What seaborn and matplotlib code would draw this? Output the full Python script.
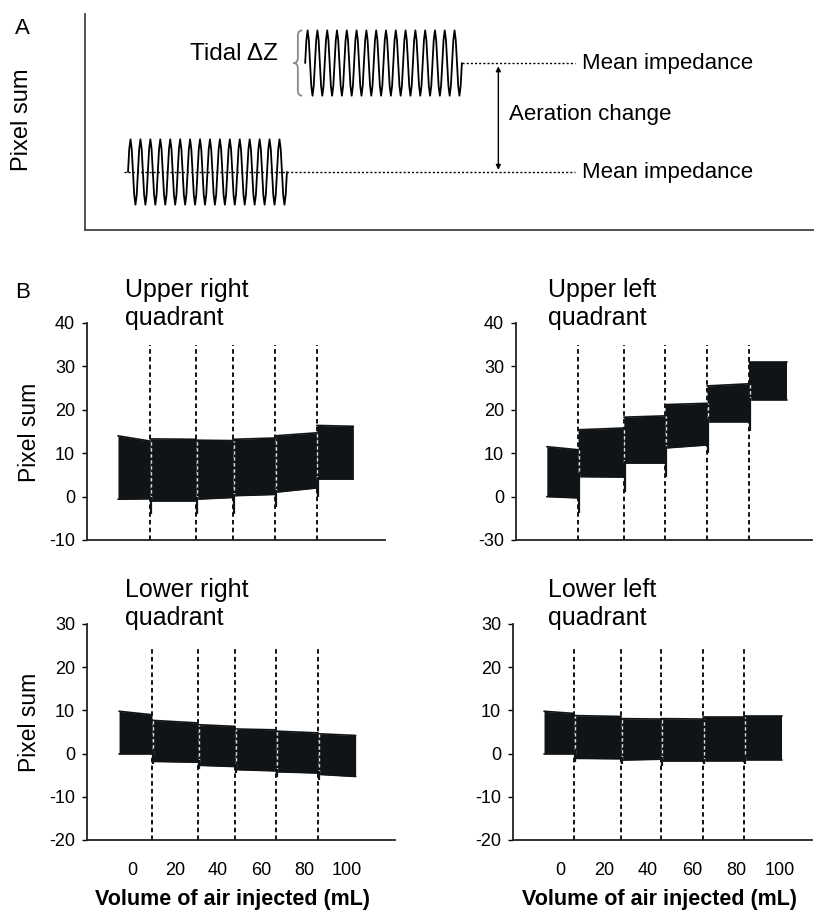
import numpy as np
import pandas as pd
import matplotlib
matplotlib.use("Agg")
import matplotlib.pyplot as plt
import seaborn as sns
from matplotlib.path import Path
from matplotlib.patches import PathPatch

# ---------------- data ----------------
# Panel A (schematic)
CYCLE_SHAPE = [0.0, 0.7, 1.0, 0.7, 0.0, -0.7, -1.0, -0.7]
N_CYCLES = 16
TIDAL_AMPLITUDE = 0.3
MEAN_LEVELS = [1.0, 2.0]          # before / after aeration change
WAVE_STARTS = [5.9, 30.2]
WAVE_ENDS = [27.7, 51.7]

# Panel B: segment boundaries (start, 5 injections, end) and envelopes
UR_EDGES = [-6.5, 8.4, 29.8, 47.0, 66.5, 86.0, 103.0]
UR_TOP_START = [14.0, 13.3, 13.0, 13.2, 14.0, 16.4]
UR_TOP_END = [12.8, 13.2, 12.9, 13.5, 14.7, 16.2]
UR_BOT_START = [-0.6, -1.0, -0.6, 0.2, 1.0, 4.0]
UR_BOT_END = [-0.5, -1.0, -0.2, 0.5, 2.0, 4.0]
UR_SPIKES = [-4.0, -4.0, -4.0, -2.5, 0.0]

UL_EDGES = [-6.0, 8.2, 29.0, 47.7, 66.8, 86.0, 103.0]
UL_TOP_START = [11.5, 15.4, 18.3, 21.2, 25.5, 30.9]
UL_TOP_END = [10.8, 15.8, 18.6, 21.5, 26.0, 30.9]
UL_BOT_START = [0.0, 4.6, 7.7, 11.2, 17.3, 22.3]
UL_BOT_END = [-0.3, 4.5, 7.7, 11.9, 17.3, 22.3]
UL_SPIKES = [-3.8, 1.0, 4.6, 10.0, 15.0]

LR_EDGES = [-6.0, 9.3, 30.7, 47.9, 67.0, 86.5, 104.0]
LR_TOP_START = [9.8, 7.7, 6.7, 5.7, 5.2, 4.6]
LR_TOP_END = [9.0, 7.1, 6.3, 5.5, 4.8, 4.2]
LR_BOT_START = [0.0, -1.8, -2.7, -3.7, -4.2, -4.8]
LR_BOT_END = [0.0, -2.0, -3.0, -4.0, -4.5, -5.3]
LR_SPIKES = [-2.5, -3.5, -4.5, -5.5, -6.0]

LL_EDGES = [-7.3, 6.4, 27.7, 45.9, 65.0, 83.6, 101.0]
LL_TOP_START = [9.8, 8.8, 8.1, 8.1, 8.4, 8.6]
LL_TOP_END = [9.3, 8.6, 8.0, 8.0, 8.4, 8.6]
LL_BOT_START = [0.0, -1.1, -1.5, -1.7, -1.7, -1.4]
LL_BOT_END = [0.0, -1.2, -1.3, -1.7, -1.7, -1.4]
LL_SPIKES = [-2.0, -2.5, -2.8, -2.5, -2.3]

UPPER_YTICKS = [-10, 0, 10, 20, 30, 40]
UR_YTICKLABELS = ["-10", "0", "10", "20", "30", "40"]
UL_YTICKLABELS = ["-30", "0", "10", "20", "30", "40"]
LOWER_YTICKS = [-20, -10, 0, 10, 20, 30]
LOWER_YTICKLABELS = ["-20", "-10", "0", "10", "20", "30"]
X_TICKS = [0, 20, 40, 60, 80, 100]
X_TICKLABELS = ["0", "20", "40", "60", "80", "100"]

TITLES = ["Upper right\nquadrant", "Upper left\nquadrant",
          "Lower right\nquadrant", "Lower left\nquadrant"]
XLABEL = "Volume of air injected (mL)"
YLABEL = "Pixel sum"

# ---------------- style ----------------
sns.set_theme(style="ticks")
plt.rcParams["font.family"] = ["Liberation Sans", "DejaVu Sans"]
plt.rcParams["axes.edgecolor"] = "#222222"
plt.rcParams["text.color"] = "black"
plt.rcParams["xtick.color"] = "black"
plt.rcParams["ytick.color"] = "black"
plt.rcParams["xtick.labelcolor"] = "black"
plt.rcParams["ytick.labelcolor"] = "black"

W, H = 814, 917
fig = plt.figure(figsize=(W / 100, H / 100), dpi=100)


def px_axes(l, r, t, b):
    return fig.add_axes([l / W, 1 - b / H, (r - l) / W, (b - t) / H])


def ftext(x, y, s, **kw):
    return fig.text(x / W, 1 - y / H, s, **kw)


# ---------------- Panel A ----------------
axA = px_axes(85, 814, 14, 230)
axA.set_xlim(0, 100)
axA.set_ylim(0.468, 2.45)
sns.despine(ax=axA)
axA.set_xticks([])
axA.set_yticks([])
for s in ["left", "bottom"]:
    axA.spines[s].set_linewidth(1.3)
    axA.spines[s].set_color("#444444")
axA.set_facecolor("none")

rows = []
for w, (st, en, lvl) in enumerate(zip(WAVE_STARTS, WAVE_ENDS, MEAN_LEVELS)):
    shape = np.array(list(np.tile(CYCLE_SHAPE, N_CYCLES)) + [CYCLE_SHAPE[0]])
    t = np.linspace(st, en, len(shape))
    for ti, v in zip(t, shape):
        rows.append({"wave": w, "t": ti, "z": lvl + TIDAL_AMPLITUDE * v})
dfA = pd.DataFrame(rows)
sns.lineplot(data=dfA, x="t", y="z", units="wave", estimator=None, sort=False,
             color="black", lw=1.3, ax=axA, legend=False)
axA.set_xlabel("")
axA.set_ylabel("")

axA.hlines(MEAN_LEVELS[0], WAVE_STARTS[0] - 0.6, 67.2, colors="black",
           linestyles=(0, (1.5, 1.5)), lw=1.0)
axA.hlines(MEAN_LEVELS[1], WAVE_ENDS[1], 67.2, colors="black",
           linestyles=(0, (1.5, 1.5)), lw=1.0)
for lvl in MEAN_LEVELS:
    axA.text(68.2, lvl, "Mean impedance", va="center", ha="left", fontsize=16)
axA.annotate("", xy=(56.7, MEAN_LEVELS[0] + 0.02), xytext=(56.7, MEAN_LEVELS[1] - 0.03),
             arrowprops=dict(arrowstyle="<|-|>", lw=1.0, color="black",
                             shrinkA=0, shrinkB=0, mutation_scale=7))
axA.text(58.1, (MEAN_LEVELS[0] + MEAN_LEVELS[1]) / 2 + 0.03, "Aeration change",
         va="center", ha="left", fontsize=16)
axA.text(26.5, MEAN_LEVELS[1] + 0.08, "Tidal \u0394Z", va="center", ha="right",
         fontsize=17.5)

# curly brace
top = MEAN_LEVELS[1] + TIDAL_AMPLITUDE
bot = MEAN_LEVELS[1] - TIDAL_AMPLITUDE
mid = MEAN_LEVELS[1]
xb = 29.2
verts = [(xb + 0.6, top), (xb, top), (xb, top - 0.05),
         (xb, mid + 0.05), (xb, mid), (xb - 0.6, mid),
         (xb, mid), (xb, mid - 0.05),
         (xb, bot + 0.05), (xb, bot), (xb + 0.6, bot)]
codes = [Path.MOVETO, Path.CURVE3, Path.CURVE3,
         Path.LINETO, Path.CURVE3, Path.CURVE3,
         Path.CURVE3, Path.CURVE3,
         Path.LINETO, Path.CURVE3, Path.CURVE3]
axA.add_patch(PathPatch(Path(verts, codes), fill=False, lw=1.3, edgecolor="#8a8a8a"))

ftext(15, 28, "A", fontsize=16, ha="left", va="center")
ftext(22, 120, YLABEL, fontsize=17, rotation=90, ha="center", va="center")

# ---------------- Panel B ----------------
ftext(15, 293, "B", fontsize=16, ha="left", va="center")


def draw_quadrant(ax, edges, tops, tope, bots, bote, spikes, dash_top,
                  ylim, yticks, yticklabels, xlim, show_x):
    ax.set_xlim(*xlim)
    ax.set_ylim(*ylim)
    sns.despine(ax=ax)
    for s in ["left", "bottom"]:
        ax.spines[s].set_linewidth(1.3)
    dashes = edges[1:-1]
    ax.vlines(dashes, ylim[0], dash_top, colors="black",
              linestyles=(0, (2.5, 1.8)), lw=1.3, zorder=1)
    rows = []
    for i in range(len(tops)):
        x0, x1 = edges[i], edges[i + 1]
        rows.append({"seg": i, "x": x0, "top": tops[i], "bot": bots[i]})
        rows.append({"seg": i, "x": x1, "top": tope[i], "bot": bote[i]})
    df = pd.DataFrame(rows)
    for i, g in df.groupby("seg"):
        ax.fill_between(g["x"], g["bot"], g["top"], color="#111416", lw=0, zorder=2)
    sns.lineplot(data=df, x="x", y="top", units="seg", estimator=None, sort=False,
                 color="#111416", lw=1.2, ax=ax, legend=False, zorder=2)
    sns.lineplot(data=df, x="x", y="bot", units="seg", estimator=None, sort=False,
                 color="#111416", lw=1.2, ax=ax, legend=False, zorder=2)
    # light gaps where the dashed lines cross the band
    for k, d in enumerate(dashes):
        lo = max(bote[k], bots[k + 1])
        hi = min(tope[k], tops[k + 1])
        ax.vlines(d + 0.3, lo, hi, colors="#d8dcdc", linestyles=(0, (2.5, 1.8)),
                  lw=1.0, zorder=3)
        ax.vlines(d + 0.4, spikes[k], lo + 0.5, colors="#111416", lw=1.6, zorder=4)
    ax.set_yticks(yticks)
    ax.set_yticklabels(yticklabels)
    ax.tick_params(axis="y", length=3.5, width=1.0, pad=5, labelsize=13)
    ax.set_xlabel("")
    ax.set_ylabel("")
    if show_x:
        ax.set_xticks(X_TICKS)
        ax.set_xticklabels(X_TICKLABELS)
        ax.tick_params(axis="x", length=0, pad=16, labelsize=13)
    else:
        ax.set_xticks([])


axUR = px_axes(87, 385, 323, 540)
draw_quadrant(axUR, UR_EDGES, UR_TOP_START, UR_TOP_END, UR_BOT_START, UR_BOT_END,
              UR_SPIKES, 35, (-10, 40), UPPER_YTICKS, UR_YTICKLABELS, (-20.9, 117.7), False)
axUL = px_axes(516, 812, 323, 540)
draw_quadrant(axUL, UL_EDGES, UL_TOP_START, UL_TOP_END, UL_BOT_START, UL_BOT_END,
              UL_SPIKES, 35, (-10, 40), UPPER_YTICKS, UL_YTICKLABELS, (-20.0, 114.5), False)
axLR = px_axes(87, 395, 624, 840)
draw_quadrant(axLR, LR_EDGES, LR_TOP_START, LR_TOP_END, LR_BOT_START, LR_BOT_END,
              LR_SPIKES, 24.7, (-20, 30), LOWER_YTICKS, LOWER_YTICKLABELS, (-20.9, 122.3), True)
axLL = px_axes(513, 812, 624, 840)
draw_quadrant(axLL, LL_EDGES, LL_TOP_START, LL_TOP_END, LL_BOT_START, LL_BOT_END,
              LL_SPIKES, 25, (-20, 30), LOWER_YTICKS, LOWER_YTICKLABELS, (-21.4, 114.5), True)

# titles: two lines each, placed by baseline
TITLE_POS = [(125, 297), (548, 297), (125, 597), (548, 597)]
for title, (tx, ty) in zip(TITLES, TITLE_POS):
    l1, l2 = title.split("\n")
    ftext(tx, ty, l1, fontsize=18, ha="left", va="baseline")
    ftext(tx, ty + 28, l2, fontsize=18, ha="left", va="baseline")

ftext(30, 432, YLABEL, fontsize=16.5, rotation=90, ha="center", va="center")
ftext(30, 722, YLABEL, fontsize=16.5, rotation=90, ha="center", va="center")

ftext(232, 900, XLABEL, fontsize=15.5, fontweight="bold", ha="center", va="center")
ftext(660, 900, XLABEL, fontsize=15.5, fontweight="bold", ha="center", va="center")

fig.savefig("out.png", dpi=100, facecolor="white")
